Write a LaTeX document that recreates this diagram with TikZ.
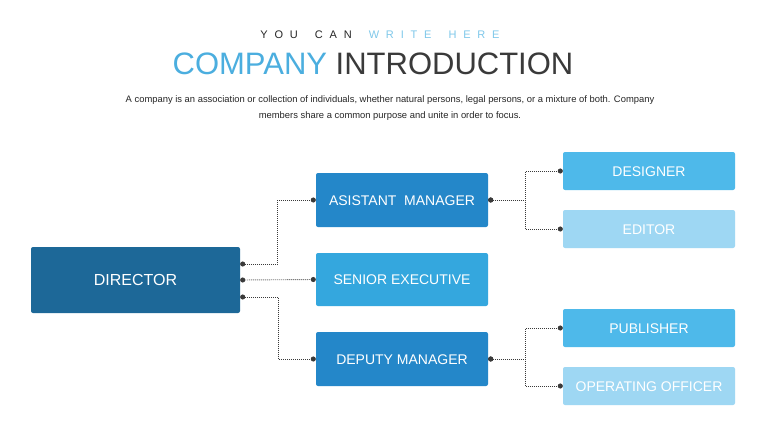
\documentclass[tikz,border=0pt]{standalone}
\usepackage{fontspec}
\setmainfont{Liberation Sans}
\usepackage{xcolor}
\usetikzlibrary{arrows.meta,positioning}

\definecolor{dirblue}{HTML}{1D6898}
\definecolor{midblue}{HTML}{2487C9}
\definecolor{srblue}{HTML}{34A7DE}
\definecolor{lightblue}{HTML}{4EB9EA}
\definecolor{paleblue}{HTML}{9ED7F3}
\definecolor{titleblue}{HTML}{4BAEDF}
\definecolor{tagblue}{HTML}{7FC8EA}
\definecolor{inkgray}{HTML}{3A3A3A}

\tikzset{
    box/.style={rectangle, rounded corners=2pt, text=white, inner sep=0pt,
        minimum width=172pt, text height=10pt, text depth=0pt,
        font=\fontsize{14}{16}\selectfont},
    link/.style={inkgray, line width=0.9pt, dash pattern=on 0.9pt off 1.1pt,
        {Circle[length=5pt]}-{Circle[length=5pt]}}
}

\begin{document}
\begin{tikzpicture}[x=1pt,y=-1pt]
\useasboundingbox[fill=white] (0,0) rectangle (760,428);
% Header
\node (tag) at (380,35) {\fontsize{11}{13}\selectfont\addfontfeature{LetterSpace=62}%
    \textcolor{black!85}{YOU\hspace{17pt}CAN}\hspace{17pt}\textcolor{tagblue}{WRITE\hspace{17pt}HERE}};
\node (title) at (373,64) {\fontsize{31}{36}\selectfont
    \textcolor{titleblue}{COMPANY} \textcolor{inkgray}{INTRODUCTION}};
\node[align=center, text=black!85, font=\fontsize{9.4}{16}\selectfont] (intro) at (390,108.5)
    {A company is an association or collection of individuals, whether natural persons, legal persons, or a mixture of both. Company\\
     members share a common purpose and unite in order to focus.};
% Boxes
\node[box, fill=dirblue, minimum width=209pt, minimum height=66pt, text height=11.5pt,
    font=\fontsize{16}{18}\selectfont] (dir) at (135.5,280) {DIRECTOR};
\node[box, fill=midblue, minimum height=54pt] (am) at (402,200) {ASISTANT\ \ MANAGER};
\node[box, fill=srblue, minimum height=53pt] (sr) at (402,279.5) {SENIOR EXECUTIVE};
\node[box, fill=midblue, minimum height=54pt] (dm) at (402,359) {DEPUTY MANAGER};
\node[box, fill=lightblue, minimum height=38pt] (ds) at (649,171) {DESIGNER};
\node[box, fill=paleblue, minimum height=38pt] (ed) at (649,229) {EDITOR};
\node[box, fill=lightblue, minimum height=38pt] (pb) at (649,328) {PUBLISHER};
\node[box, fill=paleblue, minimum height=38pt] (oo) at (649,386) {OPERATING OFFICER};
% Connectors
\draw[link] ([yshift=16pt]dir.east) -- ++(37,0) |- (am.west);
\draw[link] (dir.east) -- (sr.west);
\draw[link] ([yshift=-17pt]dir.east) -- ++(38,0) |- (dm.west);
\draw[link] (am.east) -- ++(37,0) |- (ds.west);
\draw[link] (am.east) -- ++(37,0) |- (ed.west);
\draw[link] (dm.east) -- ++(37,0) |- (pb.west);
\draw[link] (dm.east) -- ++(37,0) |- (oo.west);
\end{tikzpicture}
\end{document}
